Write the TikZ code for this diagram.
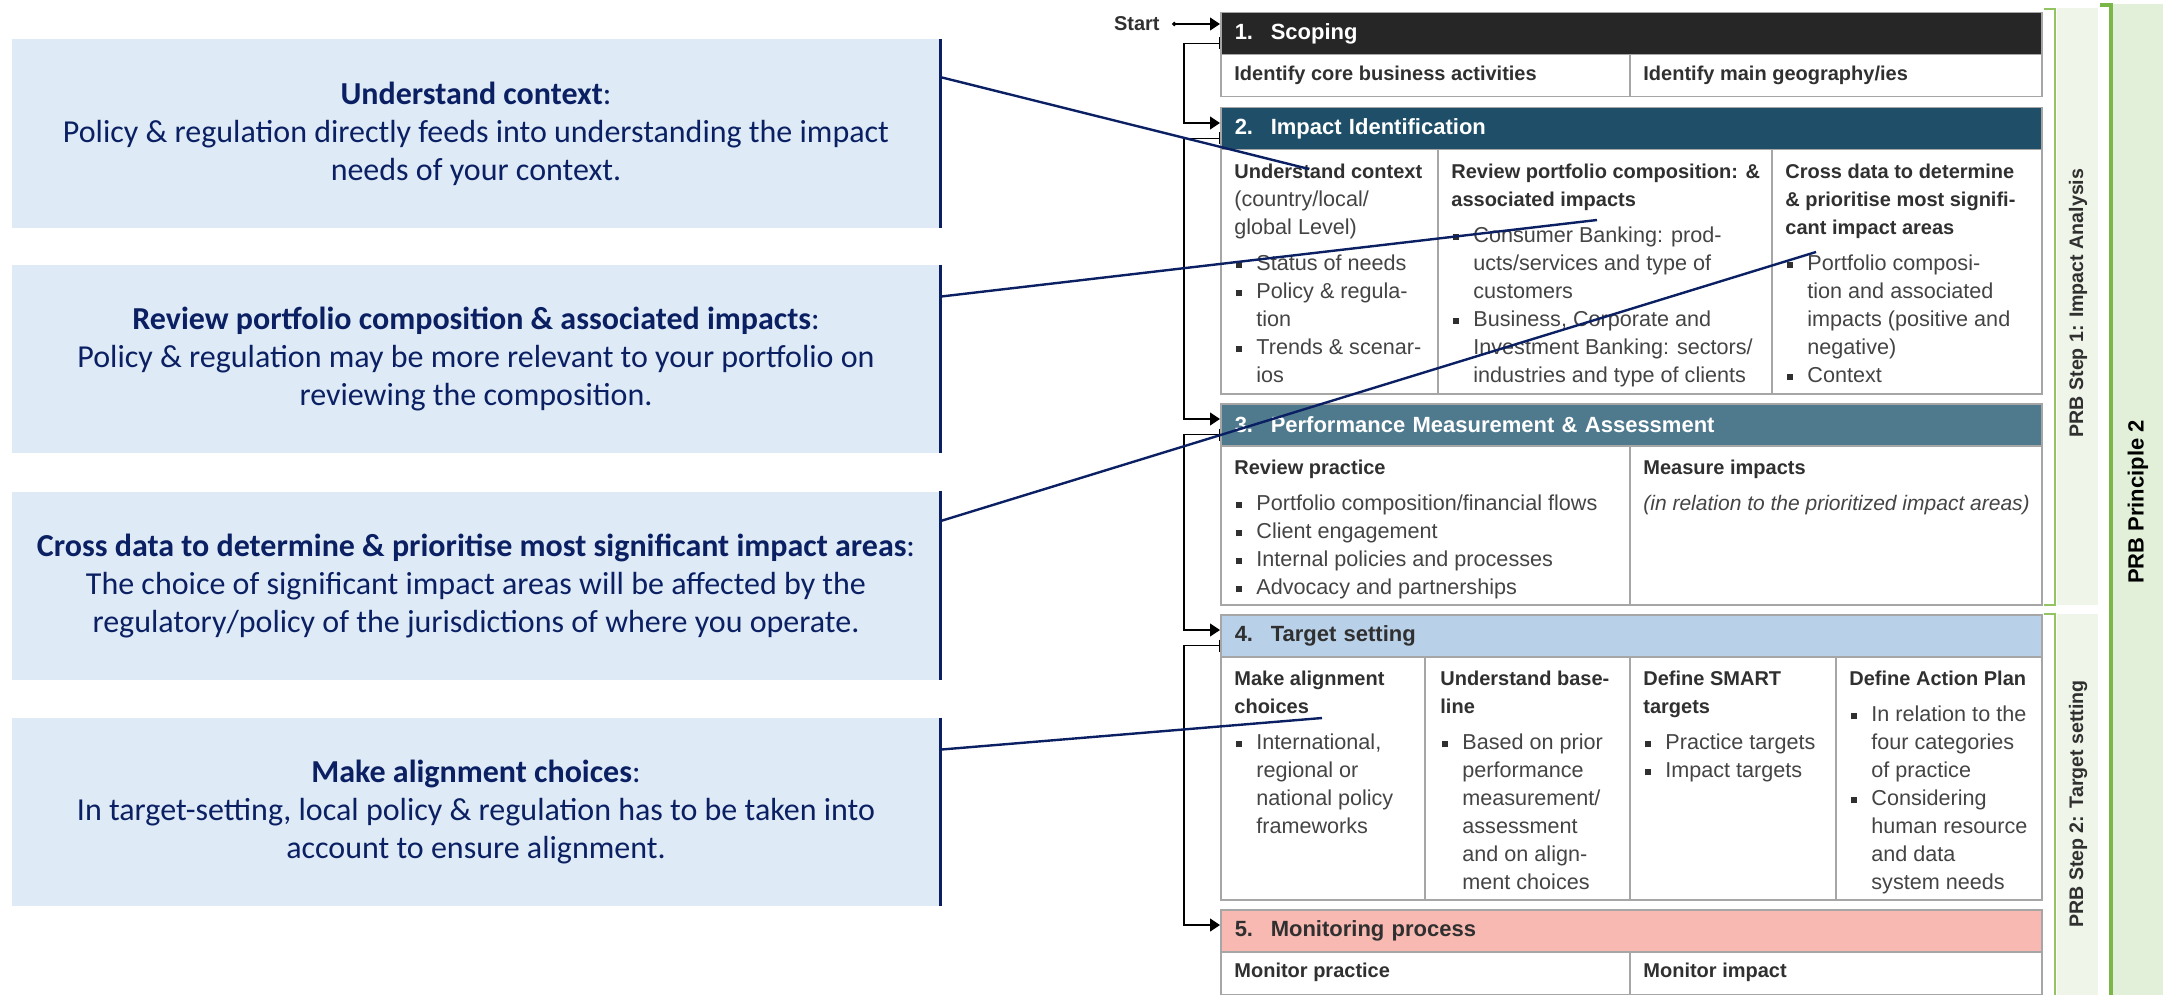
\documentclass[tikz,border=0pt]{standalone}
\usepackage{fontspec}
\setmainfont{Liberation Sans}
\newfontfamily\notefont{Carlito}
\usepackage{xcolor}
\usetikzlibrary{arrows.meta}
\tikzset{>={Triangle[width=6.5pt,length=5pt]}}

\definecolor{navy}{HTML}{0B2063}
\definecolor{notefill}{HTML}{DEEAF6}
\definecolor{boxline}{HTML}{A6A6A6}
\definecolor{hdrone}{HTML}{262626}
\definecolor{hdrtwo}{HTML}{1F4E69}
\definecolor{hdrthree}{HTML}{4F7A8D}
\definecolor{hdrfour}{HTML}{B8D0E8}
\definecolor{hdrfive}{HTML}{F7B9B2}
\definecolor{celltext}{HTML}{444444}
\definecolor{darktext}{HTML}{303030}
\definecolor{stepfill}{HTML}{EFF5E9}
\definecolor{princfill}{HTML}{E2EFD9}
\definecolor{stepline}{HTML}{92C462}
\definecolor{princline}{HTML}{7AB648}

\newcommand{\cellhead}[1]{{\fontsize{10}{14}\selectfont\bfseries\color{darktext}#1}}
\newcommand{\bitem}{\makebox[11pt][l]{\hspace{0.6pt}\color{darktext}\rule[1.3pt]{3pt}{3pt}}}
\newcommand{\bcont}{\hspace*{11pt}}
\newcommand{\hnum}[1]{\makebox[18pt][l]{#1}}

\begin{document}
\begin{tikzpicture}[x=0.5pt, y=-0.5pt, note/.style={fill=notefill, minimum width=464pt, minimum height=94pt, inner sep=0pt, align=center, text=navy, font=\notefont\fontsize{16}{19}\selectfont}, hdr/.style={draw=boxline, line width=0.75pt, anchor=north west, minimum width=410.5pt, minimum height=21pt, inner xsep=7pt, inner ysep=0pt, text width=396.5pt, align=left, font=\fontsize{11}{13}\selectfont\bfseries}, body/.style={draw=boxline, line width=0.75pt, fill=white, anchor=north west, minimum width=410.5pt, inner sep=0pt}, cell/.style={anchor=north west, inner sep=0pt, align=left, text=celltext, font=\fontsize{10.8}{14}\selectfont}, divider/.style={draw=boxline, line width=0.75pt}, flow/.style={draw=black, line width=0.6pt, {Bar[width=6pt]}->}, pointer/.style={draw=navy, line width=1.2pt}, steptxt/.style={rotate=90, text=darktext, font=\fontsize{9.8}{12}\selectfont\bfseries}, princtxt/.style={rotate=90, text=black, font=\fontsize{11}{13}\selectfont\bfseries}]

    \useasboundingbox (0,0) rectangle (2169,995);

    %Bands
    \fill[stepfill] (2057,8) rectangle (2098,605);
    \fill[stepfill] (2057,614) rectangle (2098,995);
    \fill[princfill] (2113,4) rectangle (2163,995);
    \draw[stepline, line width=1pt] (2044,9) -- (2055,9) -- (2055,605) -- (2044,605);
    \draw[stepline, line width=1pt] (2044,614) -- (2055,614) -- (2055,995);
    \draw[princline, line width=2pt] (2100,5) -- (2111,5) -- (2111,995);
    \node[steptxt](step1) at (2078,303){PRB Step 1: Impact Analysis};
    \node[steptxt](step2) at (2078,804){PRB Step 2: Target setting};
    \node[princtxt](princ) at (2138,502){PRB Principle 2};

    %Notes
    \node[note](lb1) at (476,133.5){\textbf{Understand context}:\\Policy \& regulation directly feeds into understanding the impact\\needs of your context.};
    \node[note](lb2) at (476,359){\textbf{Review portfolio composition \& associated impacts}:\\Policy \& regulation may be more relevant to your portfolio on\\reviewing the composition.};
    \node[note](lb3) at (476,585.5){\textbf{Cross data to determine \& prioritise most significant impact areas}:\\The choice of significant impact areas will be affected by the\\regulatory/policy of the jurisdictions of where you operate.};
    \node[note](lb4) at (476,812){\textbf{Make alignment choices}:\\In target-setting, local policy \& regulation has to be taken into\\account to ensure alignment.};
    \draw[pointer] (lb1.north east) -- (lb1.south east);
    \draw[pointer] (lb2.north east) -- (lb2.south east);
    \draw[pointer] (lb3.north east) -- (lb3.south east);
    \draw[pointer] (lb4.north east) -- (lb4.south east);

    %Steps
    \node[hdr, fill=hdrone, text=white](h1) at (1220,12){\hnum{1.}Scoping};
    \node[body, minimum height=21pt](b1) at (1220,54){};
    \node[hdr, fill=hdrtwo, text=white](h2) at (1220,107){\hnum{2.}Impact Identification};
    \node[body, minimum height=122pt](b2) at (1220,149){};
    \node[hdr, fill=hdrthree, text=white](h3) at (1220,403){\hnum{3.}Performance Measurement \& Assessment};
    \node[body, minimum height=79.5pt](b3) at (1220,445){};
    \node[hdr, fill=hdrfour, text=darktext](h4) at (1220,614){\hnum{4.}Target setting};
    \node[body, minimum height=121.5pt](b4) at (1220,656){};
    \node[hdr, fill=hdrfive, text=darktext](h5) at (1220,909){\hnum{5.}Monitoring process};
    \node[body, minimum height=21.5pt](b5) at (1220,951){};

    \draw[divider] (1630,54) -- (1630,96);
    \draw[divider] (1438,149) -- (1438,393);
    \draw[divider] (1772,149) -- (1772,393);
    \draw[divider] (1630,445) -- (1630,604);
    \draw[divider] (1425,656) -- (1425,899);
    \draw[divider] (1630,656) -- (1630,899);
    \draw[divider] (1836,656) -- (1836,899);
    \draw[divider] (1630,951) -- (1630,994);

    %Cells
    \node[cell, anchor=west](c11) at (1234,75){\cellhead{Identify core business activities}};
    \node[cell, anchor=west](c12) at (1643,75){\cellhead{Identify main geography/ies}};
    \node[cell](c21) at (1234,164){\cellhead{Understand context}\\(country/local/\\global Level)\\[4pt]\bitem Status of needs\\\bitem Policy \& regula-\\\bcont tion\\\bitem Trends \& scenar-\\\bcont ios};
    \node[cell](c22) at (1451,164){\cellhead{Review portfolio composition: \&}\\\cellhead{associated impacts}\\[4pt]\bitem Consumer Banking: prod-\\\bcont ucts/services and type of\\\bcont customers\\\bitem Business, Corporate and\\\bcont Investment Banking: sectors/\\\bcont industries and type of clients};
    \node[cell](c23) at (1785,164){\cellhead{Cross data to determine}\\\cellhead{\& prioritise most signifi-}\\\cellhead{cant impact areas}\\[4pt]\bitem Portfolio composi-\\\bcont tion and associated\\\bcont impacts (positive and\\\bcont negative)\\\bitem Context};
    \node[cell](c31) at (1234,460){\cellhead{Review practice}\\[4pt]\bitem Portfolio composition/financial flows\\\bitem Client engagement\\\bitem Internal policies and processes\\\bitem Advocacy and partnerships};
    \node[cell](c32) at (1643,460){\cellhead{Measure impacts}\\[4pt]{\fontsize{10.5}{14}\selectfont\itshape (in relation to the prioritized impact areas)}};
    \node[cell](c41) at (1234,671){\cellhead{Make alignment}\\\cellhead{choices}\\[4pt]\bitem International,\\\bcont regional or\\\bcont national policy\\\bcont frameworks};
    \node[cell](c42) at (1440,671){\cellhead{Understand base-}\\\cellhead{line}\\[4pt]\bitem Based on prior\\\bcont performance\\\bcont measurement/\\\bcont assessment\\\bcont and on align-\\\bcont ment choices};
    \node[cell](c43) at (1643,671){\cellhead{Define SMART}\\\cellhead{targets}\\[4pt]\bitem Practice targets\\\bitem Impact targets};
    \node[cell](c44) at (1849,671){\cellhead{Define Action Plan}\\[4pt]\bitem In relation to the\\\bcont four categories\\\bcont of practice\\\bitem Considering\\\bcont human resource\\\bcont and data\\\bcont system needs};
    \node[cell, anchor=west](c51) at (1234,972){\cellhead{Monitor practice}};
    \node[cell, anchor=west](c52) at (1643,972){\cellhead{Monitor impact}};

    %Flow
    \node[anchor=east, inner sep=0pt, text=darktext, font=\fontsize{10}{12}\selectfont\bfseries](start) at (1160,24){Start};
    \draw[draw=black, line width=0.6pt, {Circle[length=2.2pt]}->] ([xshift=6pt]start.east) -- ([yshift=-6pt]h1.north west);
    \draw[flow] ([yshift=6pt]h1.south west) -- ++(-36,0) |- ([yshift=-8pt]h2.north west);
    \draw[flow] ([yshift=6pt]h2.south west) -- ++(-36,0) |- ([yshift=-8pt]h3.north west);
    \draw[flow] ([yshift=6pt]h3.south west) -- ++(-36,0) |- ([yshift=-8pt]h4.north west);
    \draw[flow] ([yshift=6pt]h4.south west) -- ++(-36,0) |- ([yshift=-8pt]h5.north west);

    %Pointers
    \coordinate (p1) at (1309,169);
    \coordinate (p2) at (1597,220);
    \coordinate (p3) at (1816,252);
    \coordinate (p4) at (1322,718);
    \draw[pointer] ([yshift=-19pt]lb1.north east) -- (p1);
    \draw[pointer] ([yshift=-16pt]lb2.north east) -- (p2);
    \draw[pointer] ([yshift=-15pt]lb3.north east) -- (p3);
    \draw[pointer] ([yshift=-16pt]lb4.north east) -- (p4);

\end{tikzpicture}
\end{document}
